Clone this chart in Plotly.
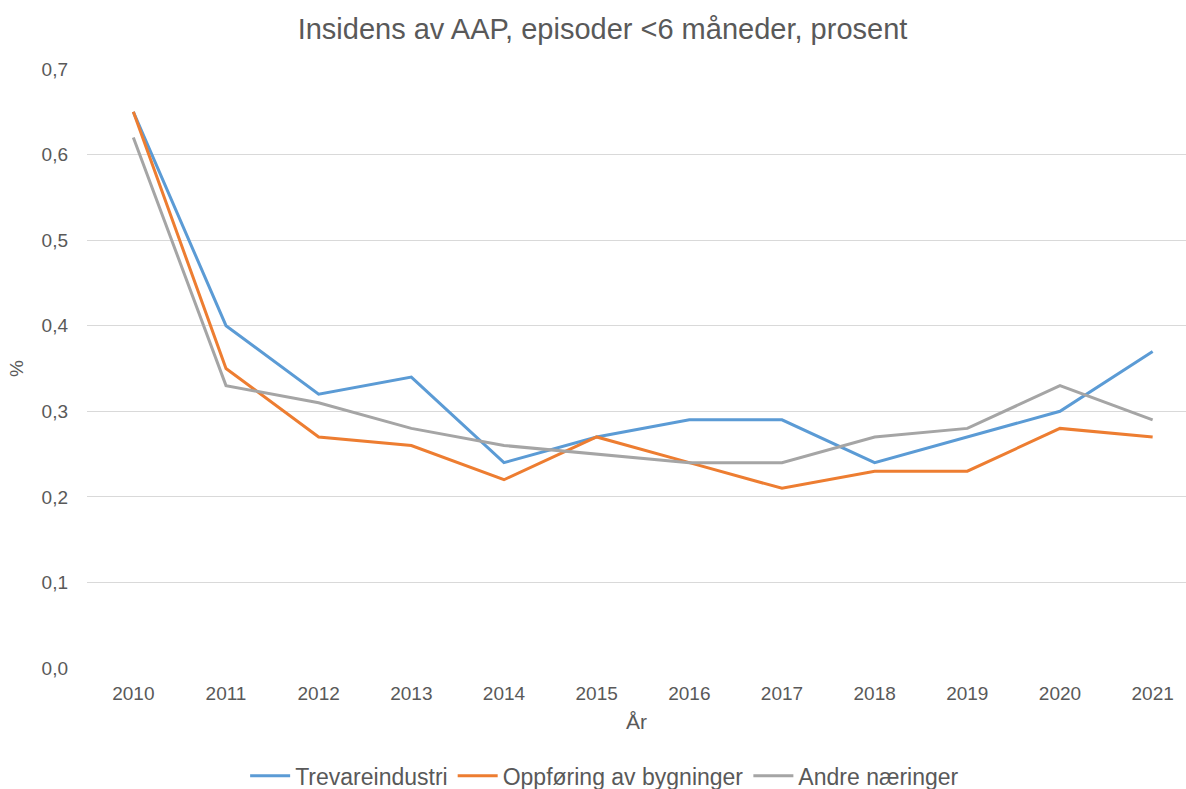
import plotly.graph_objects as go

years = [2010, 2011, 2012, 2013, 2014, 2015, 2016, 2017, 2018, 2019, 2020, 2021]
trevare = [0.65, 0.40, 0.32, 0.34, 0.24, 0.27, 0.29, 0.29, 0.24, 0.27, 0.30, 0.37]
oppforing = [0.65, 0.35, 0.27, 0.26, 0.22, 0.27, 0.24, 0.21, 0.23, 0.23, 0.28, 0.27]
andre = [0.62, 0.33, 0.31, 0.28, 0.26, 0.25, 0.24, 0.24, 0.27, 0.28, 0.33, 0.29]
y_ticks = [0.0, 0.1, 0.2, 0.3, 0.4, 0.5, 0.6, 0.7]
y_labels = ["0,0", "0,1", "0,2", "0,3", "0,4", "0,5", "0,6", "0,7"]

series = [
    ("Trevareindustri", trevare, "#5B9BD5"),
    ("Oppføring av bygninger", oppforing, "#ED7D31"),
    ("Andre næringer", andre, "#A5A5A5"),
]

fig = go.Figure()
for name, vals, color in series:
    fig.add_trace(go.Scatter(x=years, y=vals, name=name, mode="lines",
                             line=dict(color=color, width=3)))

txt = "#595959"
fig.update_layout(
    width=1186, height=789,
    paper_bgcolor="white", plot_bgcolor="white",
    margin=dict(l=87, r=0, t=69, b=121, autoexpand=False),
    font=dict(family="Liberation Sans, Arial, sans-serif", color=txt, size=19),
    title=dict(text="Insidens av AAP, episoder <6 måneder, prosent",
               x=0.508, xanchor="center", y=0.963, yanchor="middle",
               font=dict(size=29, color=txt)),
    xaxis=dict(range=[2009.5, 2021.36], tickvals=years, ticktext=[str(y) for y in years],
               showgrid=False, zeroline=False, showline=False, ticks="",
               ticklabelstandoff=12, tickfont=dict(size=19), automargin=False,
               title=dict(text="År", standoff=11, font=dict(size=21, color=txt))),
    yaxis=dict(range=[0, 0.7], tickvals=y_ticks, ticktext=y_labels,
               showgrid=True, gridcolor="#D9D9D9", gridwidth=1,
               zeroline=False, showline=False, ticks="", ticklabelstandoff=18,
               tickfont=dict(size=19), automargin=False,
               title=dict(text="%", standoff=12, font=dict(size=19, color=txt))),
    legend=dict(orientation="h", x=0.471, xanchor="center", y=-0.18, yanchor="middle",
                font=dict(size=23, color=txt), itemwidth=40),
    showlegend=True,
)
fig.write_html("out.html")
